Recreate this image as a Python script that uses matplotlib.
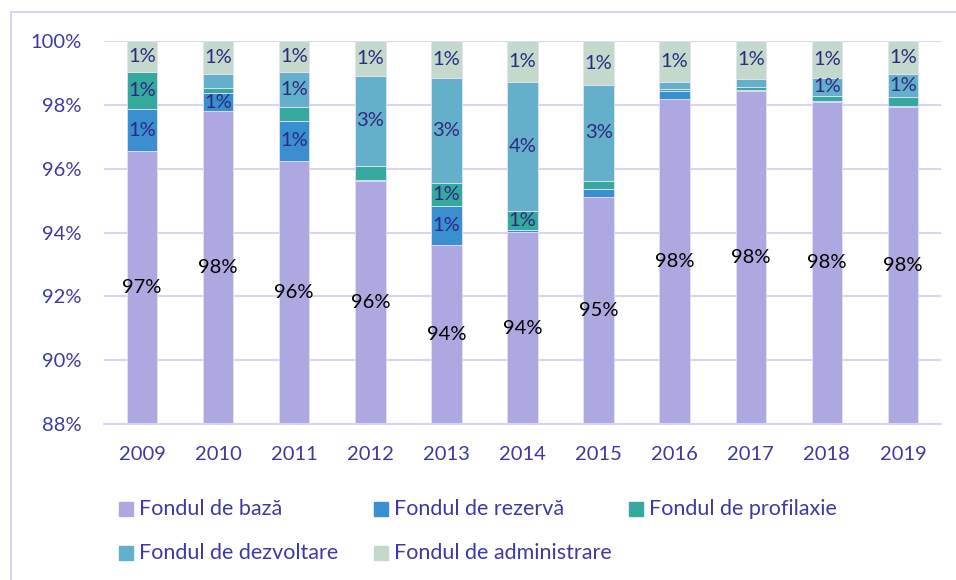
import numpy as np
import matplotlib
matplotlib.use("Agg")
import matplotlib.pyplot as plt
from matplotlib.lines import Line2D
from matplotlib.patches import Rectangle

plt.rcParams['font.family'] = ['Lato', 'DejaVu Sans']

years = ['2009', '2010', '2011', '2012', '2013', '2014', '2015', '2016', '2017', '2018', '2019']

# shares in percent
baza = [96.55, 97.80, 96.24, 95.62, 93.62, 94.01, 95.10, 98.18, 98.44, 98.10, 97.93]
rezerva = [1.31, 0.56, 1.26, 0.03, 1.22, 0.07, 0.27, 0.26, 0.02, 0.02, 0.02]
profilaxie = [1.16, 0.18, 0.44, 0.44, 0.71, 0.60, 0.25, 0.06, 0.09, 0.17, 0.28]
dezvoltare = [0.00, 0.44, 1.09, 2.82, 3.29, 4.04, 3.00, 0.21, 0.27, 0.55, 0.73]
administrare = [0.98, 1.02, 0.97, 1.09, 1.16, 1.28, 1.38, 1.29, 1.18, 1.16, 1.04]

names = ['Fondul de bază', 'Fondul de rezervă', 'Fondul de profilaxie',
         'Fondul de dezvoltare', 'Fondul de administrare']
colors = ['#AEA8E1', '#3A8FD1', '#36A99F', '#64AFC9', '#C2D9CB']

# which small segments carry a label in the original
show_rezerva = [1, 1, 1, 0, 1, 0, 0, 0, 0, 0, 0]
show_profilaxie = [1, 0, 0, 0, 1, 1, 0, 0, 0, 0, 0]
show_dezvoltare = [0, 0, 1, 1, 1, 1, 1, 0, 0, 1, 1]
show_administrare = [1] * 11

tick_color = '#3D3AA3'
label_color = '#2E2A80'
grid_color = '#D8D4F1'

fig = plt.figure(figsize=(9.56, 5.8), dpi=100)
ax = fig.add_axes([104 / 956, 1 - 424 / 580, 837 / 956, 383 / 580])

x = np.arange(len(years))
series = [baza, rezerva, profilaxie, dezvoltare, administrare]
shows = [[1] * 11, show_rezerva, show_profilaxie, show_dezvoltare, show_administrare]
bottom = np.zeros(len(years))
ymin = 88
for i, (vals, col, show) in enumerate(zip(series, colors, shows)):
    vals = np.array(vals)
    ax.bar(x, vals, 0.4, bottom=bottom, color=col, edgecolor='#E4E1F5',
           linewidth=0.6, zorder=2)
    for j in range(len(years)):
        if not show[j]:
            continue
        lo = max(bottom[j], ymin)
        hi = bottom[j] + vals[j]
        yc = (lo + hi) / 2
        txt = '%d%%' % max(1, round(vals[j]))
        ax.text(x[j], yc, txt, ha='center', va='center', fontsize=14.5,
                color='black' if i == 0 else label_color, zorder=3)
    bottom += vals

ax.set_ylim(88, 100)
ax.set_xlim(-0.5, len(years) - 0.5)
ax.set_yticks(np.arange(88, 101, 2))
ax.set_yticklabels(['%d%%' % v for v in range(88, 101, 2)])
ax.set_xticks(x)
ax.set_xticklabels(years)
ax.tick_params(axis='both', length=0, labelsize=14.5, colors=tick_color)
ax.tick_params(axis='y', pad=16)
ax.tick_params(axis='x', pad=16)
ax.yaxis.grid(True, color=grid_color, linewidth=1.5, zorder=0)
ax.set_axisbelow(True)
for s in ['top', 'right', 'left']:
    ax.spines[s].set_visible(False)
ax.spines['bottom'].set_color(grid_color)
ax.spines['bottom'].set_linewidth(1.5)

# legend, laid out like the original (fixed column widths)
col_x = [119, 374, 629]
row_y = [509, 553]
for i, (name, col) in enumerate(zip(names, colors)):
    cx = col_x[i % 3]
    cy = row_y[i // 3]
    fig.patches.append(Rectangle((cx / 956, 1 - (cy + 7) / 580), 14 / 956, 14 / 580,
                                 transform=fig.transFigure, color=col, figure=fig))
    fig.text((cx + 20) / 956, 1 - cy / 580, name, ha='left', va='center',
             fontsize=15.5, color=tick_color)

# outer chart frame
fig.add_artist(Line2D([11 / 956, 1], [1 - 12 / 580] * 2, color=grid_color, lw=1.5))
fig.add_artist(Line2D([11 / 956] * 2, [0, 1 - 12 / 580], color=grid_color, lw=1.5))

fig.savefig('out.png', dpi=100)
